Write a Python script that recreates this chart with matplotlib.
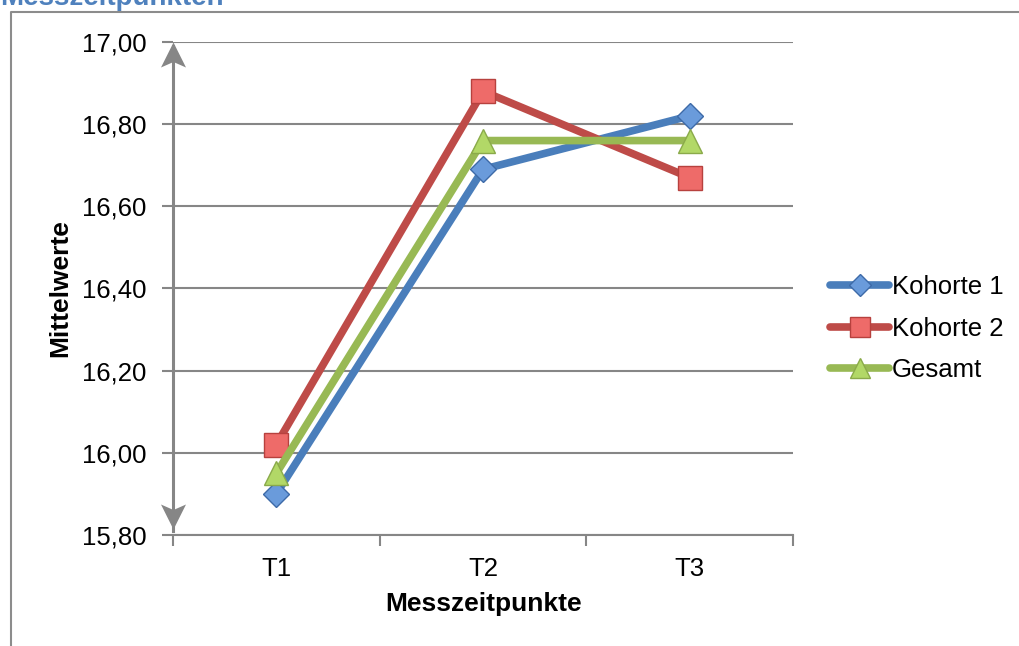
import matplotlib.pyplot as plt
from matplotlib.lines import Line2D
from matplotlib.path import Path
from matplotlib.ticker import FuncFormatter, MultipleLocator

plt.rcParams['font.family'] = ['Liberation Sans', 'DejaVu Sans']

# Mittelwerte je Messzeitpunkt
zeitpunkte = ['T1', 'T2', 'T3']
kohorte_1 = [15.90, 16.69, 16.82]
kohorte_2 = [16.02, 16.88, 16.67]
gesamt = [15.95, 16.76, 16.76]

grau = '#868686'

fig = plt.figure(figsize=(10.2, 6.46), dpi=100)
ax = fig.add_axes([0.1696, 0.172, 0.608, 0.763])

x = range(1, len(zeitpunkte) + 1)
ax.plot(x, kohorte_1, color='#4A7EBB', lw=5.5, marker='D', ms=13, solid_capstyle='round',
        mfc='#6A9BDB', mec='#3D6AA8', mew=1, label='Kohorte 1', zorder=3)
ax.plot(x, kohorte_2, color='#BE4B48', lw=5.5, marker='s', ms=17, solid_capstyle='round',
        mfc='#EE6B69', mec='#B7413E', mew=1, label='Kohorte 2', zorder=3)
ax.plot(x, gesamt, color='#98B954', lw=5.5, marker='^', ms=17, solid_capstyle='round',
        mfc='#B2D867', mec='#8AAA4A', mew=1, label='Gesamt', zorder=4)

ax.set_xlim(0.5, 3.5)
ax.set_ylim(15.8, 17.0)
ax.set_xticks(list(x))
ax.set_xticklabels(zeitpunkte)
ax.set_xticks([0.5, 1.5, 2.5, 3.5], minor=True)
ax.tick_params(axis='x', which='major', length=0, labelsize=18.5, pad=16)
ax.tick_params(axis='x', which='minor', length=8, width=1.5, color=grau, direction='out')
ax.yaxis.set_major_locator(MultipleLocator(0.2))
ax.yaxis.set_major_formatter(FuncFormatter(lambda v, p: f'{v:.2f}'.replace('.', ',')))
ax.tick_params(axis='y', length=8, width=1.5, color=grau, labelsize=18.5, pad=11)

ax.grid(axis='y', color=grau, lw=1.5)
ax.set_axisbelow(True)
for s in ['top', 'right', 'left']:
    ax.spines[s].set_visible(False)
ax.spines['bottom'].set_color(grau)
ax.spines['bottom'].set_linewidth(1.5)

# Doppelpfeil als y-Achse, Spitzen als eigene Marker
spitze_oben = Path([(0, 0), (-0.5, -1.0), (0, -0.78), (0.5, -1.0), (0, 0)],
                   [Path.MOVETO, Path.LINETO, Path.LINETO, Path.LINETO, Path.CLOSEPOLY])
spitze_unten = Path([(0, 0), (-0.5, 1.0), (0, 0.78), (0.5, 1.0), (0, 0)],
                    [Path.MOVETO, Path.LINETO, Path.LINETO, Path.LINETO, Path.CLOSEPOLY])
ax.plot([0.5, 0.5], [15.81, 16.99], color=grau, lw=2.2, clip_on=False, zorder=2)
ax.plot([0.5], [17.0], marker=spitze_oben, ms=36, color=grau, mew=0, clip_on=False, zorder=2)
ax.plot([0.5], [15.815], marker=spitze_unten, ms=36, color=grau, mew=0, clip_on=False, zorder=2)

ax.set_xlabel('Messzeitpunkte', fontsize=19, fontweight='bold', labelpad=8)
ax.set_ylabel('Mittelwerte', fontsize=19, fontweight='bold', labelpad=7)

ax.legend(loc='center left', bbox_to_anchor=(1.06, 0.418), frameon=False,
          fontsize=18.5, handlelength=2.3, handletextpad=0.1, labelspacing=0.68,
          borderpad=0, borderaxespad=0, markerscale=0.85)

# Rahmen und angeschnittener Titel
fig.add_artist(Line2D([11 / 1020, 11 / 1020, 1.0], [0.0, 1 - 12 / 646, 1 - 12 / 646],
                      transform=fig.transFigure, color='#8C8C8C', lw=1.5))
fig.text(0.0, 1 - 5 / 646, 'Messzeitpunkten', color='#4F81BD', fontsize=20,
         fontweight='bold', ha='left', va='baseline')

fig.savefig('out.png', dpi=100)
